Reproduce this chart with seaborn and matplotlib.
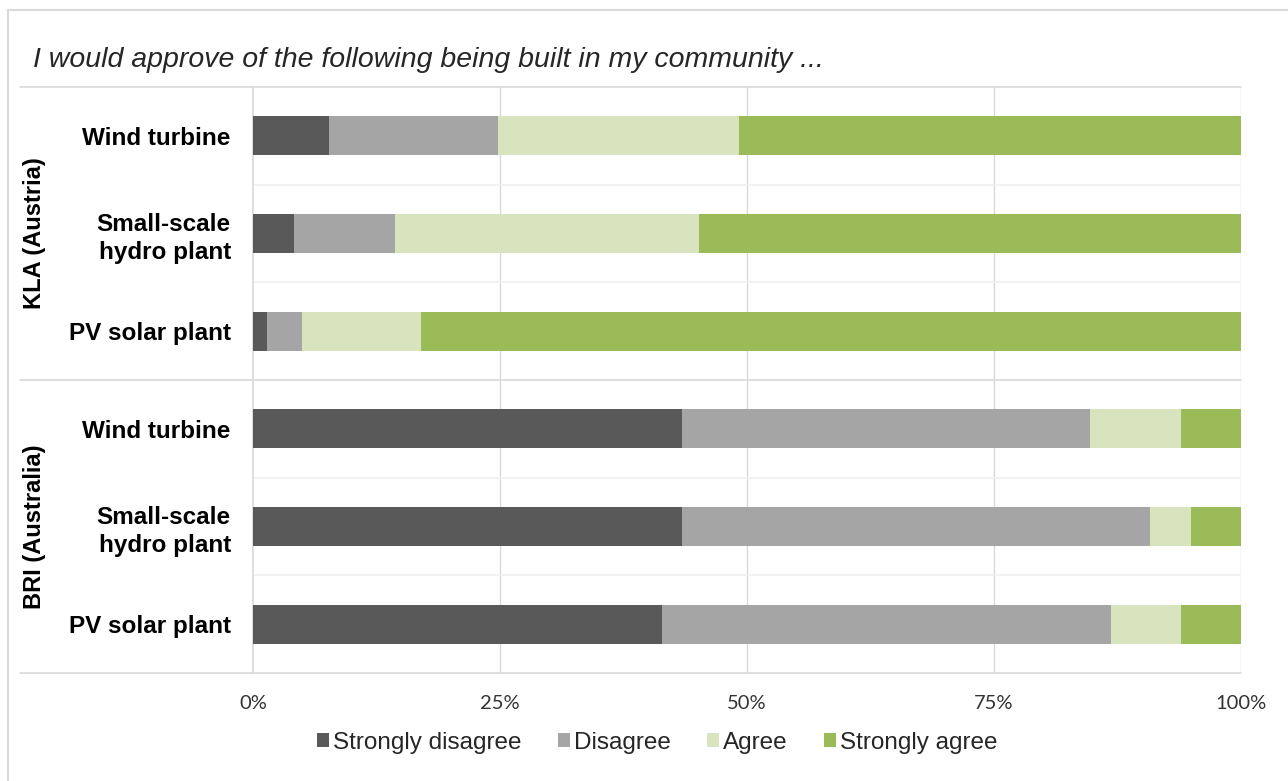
import matplotlib
matplotlib.use("Agg")
import matplotlib.pyplot as plt
from matplotlib import font_manager as fm
from matplotlib.lines import Line2D
from matplotlib.patches import Patch
from matplotlib.transforms import blended_transform_factory
import numpy as np
import pandas as pd
import seaborn as sns

# Survey responses (% of respondents)
groups = ["KLA (Austria)", "BRI (Australia)"]
items = ["Wind turbine", "Small-scale\nhydro plant", "PV solar plant"]
strongly_disagree = [7.7, 4.1, 1.4, 43.4, 43.4, 41.4]
disagree = [17.1, 10.3, 3.6, 41.3, 47.4, 45.4]
agree = [24.4, 30.7, 12.0, 9.2, 4.1, 7.1]
strongly_agree = [50.8, 54.9, 83.0, 6.1, 5.1, 6.1]
responses = ["Strongly disagree", "Disagree", "Agree", "Strongly agree"]
x_ticks = [0, 25, 50, 75, 100]
x_tick_labels = ["0%", "25%", "50%", "75%", "100%"]
title = "I would approve of the following being built in my community ..."

colors = ["#595959", "#a5a5a5", "#d7e4bd", "#9bbb59"]
line_col = "#d9d9d9"
faint_col = "#f0f0f0"

sns.set_theme(style="white")
installed = {f.name for f in fm.fontManager.ttflist}


def pick(*names):
    for n in names:
        if n in installed:
            return n
    return "DejaVu Sans"


sans = pick("Liberation Sans", "Arial", "DejaVu Sans")
narrow = pick("Liberation Sans Narrow", "Arial Narrow", "Liberation Sans")
tickfont = pick("Lato", "Open Sans", "Liberation Sans")
plt.rcParams["font.family"] = [sans, "DejaVu Sans"]

rows = [f"{g}|{it}" for g in groups for it in items]
df = pd.DataFrame({
    "row": rows,
    "Strongly disagree": strongly_disagree,
    "Disagree": disagree,
    "Agree": agree,
    "Strongly agree": strongly_agree,
})
cum = df[responses].cumsum(axis=1)

W, H = 1288, 781
fig = plt.figure(figsize=(W / 100, H / 100), dpi=100)
ax = fig.add_axes([253 / W, (H - 673) / H, 988 / W, 586 / H])

# stacked bars: draw the running totals from the largest down
for resp, col in zip(reversed(responses), reversed(colors)):
    sns.barplot(x=cum[resp], y=df["row"], order=rows, orient="h",
                color=col, width=0.4, linewidth=0, saturation=1,
                ax=ax, zorder=3)

ax.set_xlim(0, 100)
ax.set_ylim(len(rows) - 0.5, -0.5)
ax.set_xlabel("")
ax.set_ylabel("")

ax.set_xticks(x_ticks)
ax.set_xticklabels(x_tick_labels, fontfamily=tickfont, fontsize=14.5, color="#333333")
ax.tick_params(axis="x", length=0, pad=16)
ax.set_yticks(range(len(rows)))
ax.set_yticklabels(items * len(groups), fontsize=17.5, fontweight="bold",
                   color="black", linespacing=1.3)
ax.tick_params(axis="y", length=0, pad=16)

for s in ["top", "right", "bottom"]:
    ax.spines[s].set_visible(False)
ax.spines["left"].set_color(line_col)
ax.spines["left"].set_linewidth(1.2)

# vertical gridlines
for xv in x_ticks[1:]:
    ax.axvline(xv, color=line_col, lw=1.0, zorder=1)

# faint separators between rows within a group
n_items = len(items)
for gi in range(len(groups)):
    for k in range(1, n_items):
        ax.axhline(gi * n_items + k - 0.5, color=faint_col, lw=1.2, zorder=1)

# group separators extending into the label column
tr = blended_transform_factory(fig.transFigure, ax.transData)
for gi in range(len(groups) + 1):
    yv = gi * n_items - 0.5
    ax.add_line(Line2D([20 / W, 1241 / W], [yv, yv], transform=tr,
                       color=line_col, lw=1.2, clip_on=False, zorder=2))

# group labels
for gi, g in enumerate(groups):
    ax.text(35 / W, gi * n_items + (n_items - 1) / 2, g, transform=tr,
            rotation=90, ha="center", va="center", fontsize=17,
            fontweight="bold", color="black")

# title
fig.text(33 / W, 1 - 60 / H, title, ha="left", va="center", fontsize=20.5,
         style="italic", color="#262626")

# outer frame (top and left edges)
fig.add_artist(Line2D([8 / W, 1], [1 - 10 / H, 1 - 10 / H], transform=fig.transFigure,
                      color=line_col, lw=1.5))
fig.add_artist(Line2D([8 / W, 8 / W], [0, 1 - 10 / H], transform=fig.transFigure,
                      color=line_col, lw=1.5))

# legend
handles = [Patch(facecolor=c, edgecolor="none", label=r) for r, c in zip(responses, colors)]
fig.legend(handles=handles, loc="center", bbox_to_anchor=(657 / W, 1 - 743 / H),
           ncol=4, frameon=False, prop={"family": narrow, "size": 17.5},
           handlelength=0.5, handleheight=0.5, handletextpad=0.15,
           columnspacing=1.5, borderaxespad=0)

fig.savefig("out.png", dpi=100, facecolor="white")
